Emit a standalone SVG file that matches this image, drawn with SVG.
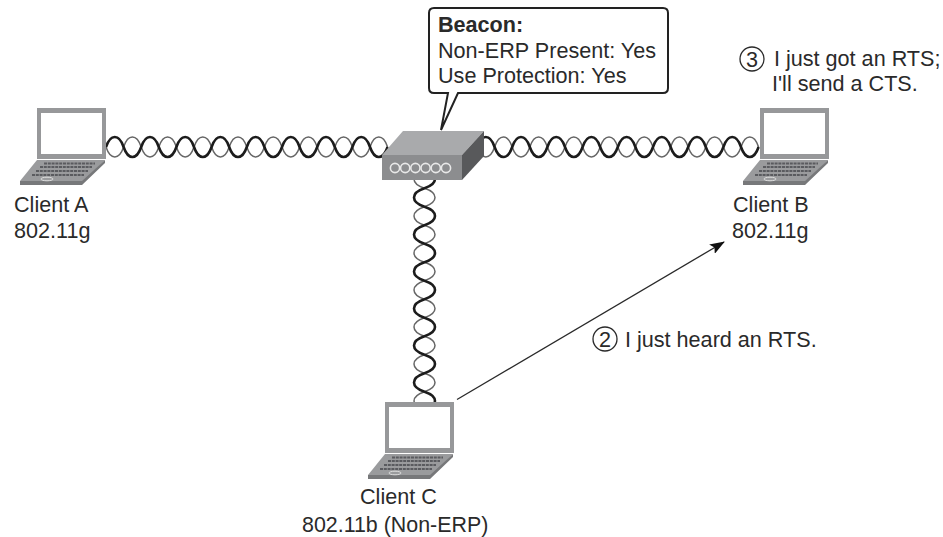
<svg xmlns="http://www.w3.org/2000/svg" width="943" height="537" viewBox="0 0 943 537">
<style>
text{font-family:"Liberation Sans",Arial,sans-serif;font-size:21.6px;fill:#2a2a2a}
.b{font-weight:bold}
.d{fill:none;stroke:#1c1c1c;stroke-width:2.6}
.g{fill:none;stroke:#666;stroke-width:1.5}
.n{fill:none;stroke:#2a2a2a;stroke-width:1.3}
.lid{fill:#97989a}.scr{fill:#fff}.base{fill:#9a9b9d}.keys{fill:none;stroke:#5a5b5f;stroke-width:2.2}
</style>
<defs>
<marker id="arr" viewBox="0 0 15 11" refX="14" refY="5.5" markerWidth="15" markerHeight="11" markerUnits="userSpaceOnUse" orient="auto"><path d="M0 0L15 5.5L0 11L3 5.5Z" fill="#111"/></marker>
<path id="up" d="M0 0c4.500 -13.300 13.100 -13.300 17.600 0s13.100 13.300 17.600 0s13.100 -13.300 17.600 0s13.100 13.300 17.600 0s13.100 -13.300 17.600 0s13.100 13.300 17.600 0s13.100 -13.300 17.600 0s13.100 13.300 17.600 0s13.100 -13.300 17.600 0s13.100 13.300 17.600 0s13.100 -13.300 17.600 0s13.100 13.300 17.600 0s13.100 -13.300 17.600 0s13.100 13.300 17.600 0s13.100 -13.300 17.600 0s13.100 13.300 17.600 0"/>
<path id="down" d="M0 0c4.500 13.300 13.100 13.300 17.600 0s13.100 -13.300 17.600 0s13.100 13.300 17.600 0s13.100 -13.300 17.600 0s13.100 13.300 17.600 0s13.100 -13.300 17.600 0s13.100 13.300 17.600 0s13.100 -13.300 17.600 0s13.100 13.300 17.600 0s13.100 -13.300 17.600 0s13.100 13.300 17.600 0s13.100 -13.300 17.600 0s13.100 13.300 17.600 0s13.100 -13.300 17.600 0s13.100 13.300 17.600 0s13.100 -13.300 17.600 0"/>
<g id="laptop">
<rect class="lid" x="0" y="0" width="69" height="51"/>
<rect class="scr" x="4" y="5" width="61" height="41"/>
<path class="base" d="M0 52H68L45 76H-17V73Z"/>
<path d="M-17 73H45L68 52V55L45 77H-17Z" fill="#77787a"/>
<path class="keys" d="M-5 67H47M-1 63H51M3 59H55M7 55.500H58" stroke-dasharray="3 .8"/>
<ellipse cx="10" cy="71" rx="6" ry="1.800" fill="none" stroke="#dedede" stroke-width="1"/>
</g>
</defs>
<g id="connectors">
<use href="#down" class="g" x="106" y="147"/>
<use href="#up" class="d" x="106" y="147"/>
<use href="#down" class="g" x="477" y="147"/>
<use href="#up" class="d" x="477" y="147"/>
<path class="g" d="M424.500 169.800c-14 4.700 -14 13.800 0 18.500s14 13.800 0 18.500s-14 13.800 0 18.500s14 13.800 0 18.500s-14 13.800 0 18.500s14 13.800 0 18.500s-14 13.800 0 18.500s14 13.800 0 18.500s-14 13.800 0 18.500s14 13.800 0 18.500s-14 13.800 0 18.500s14 13.800 0 18.500s-14 13.800 0 18.500"/>
<path class="d" d="M424.500 169.800c14 4.700 14 13.800 0 18.500s-14 13.800 0 18.500s14 13.800 0 18.500s-14 13.800 0 18.500s14 13.800 0 18.500s-14 13.800 0 18.500s14 13.800 0 18.500s-14 13.800 0 18.500s14 13.800 0 18.500s-14 13.800 0 18.500s14 13.800 0 18.500s-14 13.800 0 18.500s14 13.800 0 18.500"/>
<path class="n" d="M457 399.500L724 242" marker-end="url(#arr)"/>
</g>
<g id="client-a">
<use href="#laptop" x="37" y="108"/>
<text x="14" y="212">Client A</text>
<text x="14" y="238">802.11g</text>
</g>
<g id="client-b">
<use href="#laptop" x="760" y="108"/>
<text x="733" y="212">Client B</text>
<text x="732" y="238">802.11g</text>
</g>
<g id="client-c">
<use href="#laptop" x="385" y="402"/>
<text x="360" y="504">Client C</text>
<text x="302" y="532" style="font-size:21.400px">802.11b (Non-ERP)</text>
</g>
<g id="access-point">
<path d="M382 155L403 131H484L462 155Z" fill="#a9aaac"/>
<path d="M462 155L484 131V156L462 180Z" fill="#58595b"/>
<rect x="382" y="155" width="80" height="25" fill="#8c8d8f"/>
<g fill="none" stroke="#e8e8e8" stroke-width="1.600">
<circle cx="395" cy="168" r="4.600"/><circle cx="405.200" cy="168" r="4.600"/><circle cx="415.400" cy="168" r="4.600"/><circle cx="425.600" cy="168" r="4.600"/><circle cx="435.800" cy="168" r="4.600"/><circle cx="446" cy="168" r="4.600"/>
</g>
</g>
<g id="beacon-callout">
<path d="M434 8H663Q668 8 668 13V88Q668 93 663 93H458L441 130L448 93H434Q429 93 429 88V13Q429 8 434 8Z" fill="#fff" stroke="#222" stroke-width="2"/>
<text class="b" x="438" y="32">Beacon:</text>
<text x="438" y="58">Non-ERP Present: Yes</text>
<text x="438" y="83">Use Protection: Yes</text>
</g>
<g id="label-3">
<circle cx="752" cy="59" r="12" fill="none" stroke="#2a2a2a" stroke-width="1.300"/>
<text x="752" y="66.500" text-anchor="middle">3</text>
<text x="774" y="66">I just got an RTS;</text>
<text x="772" y="91">I'll send a CTS.</text>
</g>
<g id="label-2">
<circle cx="605" cy="339" r="12" fill="none" stroke="#2a2a2a" stroke-width="1.300"/>
<text x="605" y="346.500" text-anchor="middle">2</text>
<text x="625" y="346.500">I just heard an RTS.</text>
</g>
</svg>
